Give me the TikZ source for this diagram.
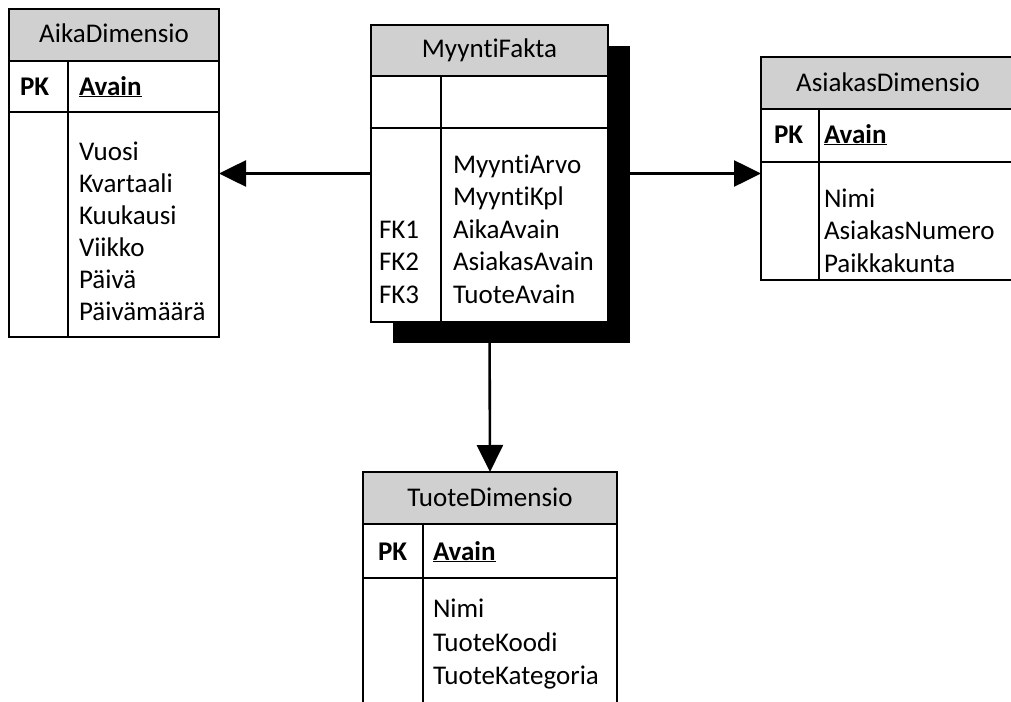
\documentclass[tikz,border=0pt]{standalone}
\usepackage{fontspec}
\setmainfont{Carlito}[Ligatures={NoCommon}]
\usetikzlibrary{arrows.meta}

\definecolor{headgray}{RGB}{208,208,208}

\tikzset{
  tbl/.style={draw, line width=2pt, rectangle, outer sep=0pt, inner sep=0pt},
  field/.style={anchor=base west, inner sep=0pt, font=\fontsize{27}{32}\selectfont},
  title/.style={anchor=base, inner sep=0pt, font=\fontsize{27}{32}\selectfont},
  key/.style={field, font=\fontsize{27}{32}\selectfont\bfseries},
  link/.style={line width=2.6pt, -{Triangle[length=27pt, width=26pt]}}
}

\begin{document}
\begin{tikzpicture}[x=1pt, y=-1pt, line width=2pt]
\clip (0,0) rectangle (1011,701);

% AikaDimensio
\fill[headgray] (9,9) rectangle (219,61);
\node[tbl, minimum width=210pt, minimum height=328pt, anchor=north west] (aika) at (9,9) {};
\draw (9,61) -- (219,61);
\draw (9,112) -- (219,112);
\draw (68,61) -- (68,337);
\node[title] (aikaT) at (114,43) {AikaDimensio};
\node[key] (aikaPK) at (19,95) {PK};
\node[key] (aikaA) at (78,95) {\underline{Avain}};
\foreach \t [count=\i] in {Vuosi,Kvartaali,Kuukausi,Viikko,Päivä,Päivämäärä}
  \node[field] (aika\i) at (78,128+32*\i) {\t};

% MyyntiFakta (varjo ensin)
\fill (393,46) rectangle (630,343);
\fill[white] (371,25) rectangle (608,322);
\fill[headgray] (371,25) rectangle (608,76);
\node[tbl, minimum width=237pt, minimum height=297pt, anchor=north west] (fakta) at (371,25) {};
\draw (371,76) -- (608,76);
\draw (371,128) -- (608,128);
\draw (441,76) -- (441,322);
\node[title] (faktaT) at (489.5,58) {MyyntiFakta};
\foreach \t [count=\i] in {MyyntiArvo,MyyntiKpl,AikaAvain,AsiakasAvain,TuoteAvain}
  \node[field] (fakta\i) at (452,140.5+32.5*\i) {\t};
\foreach \t [count=\i] in {FK1,FK2,FK3}
  \node[field] (faktaFK\i) at (378,205.5+32.5*\i) {\t};

% AsiakasDimensio
\fill[headgray] (761,57) rectangle (1015,109);
\node[tbl, minimum width=254pt, minimum height=223pt, anchor=north west] (asiakas) at (761,57) {};
\draw (761,109) -- (1015,109);
\draw (761,162) -- (1015,162);
\draw (819,109) -- (819,280);
\node[title] (asiakasT) at (888,91) {AsiakasDimensio};
\node[key] (asiakasPK) at (773,143) {PK};
\node[key] (asiakasA) at (823,143) {\underline{Avain}};
\foreach \t [count=\i] in {Nimi,AsiakasNumero,Paikkakunta}
  \node[field] (asiakas\i) at (823,174.5+32.5*\i) {\t};

% TuoteDimensio
\fill[headgray] (363,472) rectangle (617,524);
\node[tbl, minimum width=254pt, minimum height=250pt, anchor=north west] (tuote) at (363,472) {};
\draw (363,524) -- (617,524);
\draw (363,578) -- (617,578);
\draw (423,524) -- (423,722);
\node[title] (tuoteT) at (490,506) {TuoteDimensio};
\node[key] (tuotePK) at (377,560) {PK};
\node[key] (tuoteA) at (432,560) {\underline{Avain}};
\foreach \t [count=\i] in {Nimi,TuoteKoodi,TuoteKategoria}
  \node[field] (tuote\i) at (432,584+33.5*\i) {\t};

% yhteydet
\draw[link] (fakta.west) -- (aika.east |- fakta.west);
\draw[link] (fakta.east) -- (asiakas.west |- fakta.east);
\draw[link] (fakta.south) -- (tuote.north);
\end{tikzpicture}
\end{document}
